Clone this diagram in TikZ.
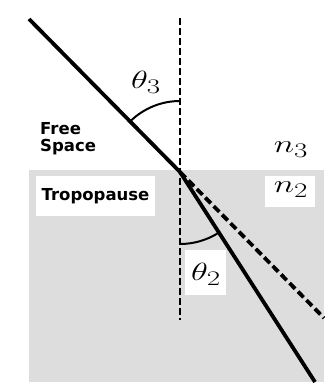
\documentclass[tikz,border=0pt]{standalone}
\usepackage{fontspec}
\usetikzlibrary{calc}
\newfontfamily\labfont{DejaVu Sans}
\tikzset{
  ray/.style={line width=3.8pt},
  normal/.style={line width=2.4pt, dash pattern=on 6.5pt off 3.5pt},
  ghost/.style={line width=3.8pt, dash pattern=on 8pt off 4pt},
  anglearc/.style={line width=2pt},
  txt/.style={font=\labfont\bfseries\fontsize{16.5}{18}\selectfont, inner sep=0pt},
  mathlab/.style={inner sep=0pt, font=\fontsize{28}{32}\selectfont},
  whitebox/.style={fill=white, draw=none},
}
\newcommand{\wide}[1]{\scalebox{1.4}[1]{#1}}
\begin{document}
\begin{tikzpicture}[x=1pt,y=1pt]
\useasboundingbox (0,0) rectangle (324,-388);
\fill[white] (0,0) rectangle (324,-388);
% lower medium
\fill[fill={rgb,255:red,221;green,221;blue,221}] (29,-170) rectangle (324,-382);
% white label boxes
\fill[whitebox] (36,-176) rectangle (155,-216);
\fill[whitebox] (265,-176) rectangle (315,-207);
\fill[whitebox] (185,-250) rectangle (226,-295);
% points
\coordinate (O) at (180,-172);
\coordinate (A) at (29,-19);
\coordinate (B) at (315,-382);
\coordinate (C) at (324,-318);
\coordinate (Ntop) at (180,-18);
\coordinate (Nbot) at (180,-320);
% normal
\draw[normal] (Ntop) -- (Nbot);
% extension of incident ray
\draw[ghost] (O) -- (C);
% rays
\draw[ray] (A) -- (O);
\draw[ray] (O) -- (B);
% angle arcs
\draw[anglearc] ($(O)+(90:71)$) arc[start angle=90, end angle=134.6, radius=71];
\draw[anglearc] ($(O)+(-90:72)$) arc[start angle=-90, end angle=-57.5, radius=72];
% labels
\node[mathlab] (t3) at (146,-82) {\wide{$\theta_3$}};
\node[mathlab] (t2) at (206,-274) {\wide{$\theta_2$}};
\node[mathlab] (n3) at (291,-150) {\wide{$n_3$}};
\node[mathlab] (n2) at (291,-190) {\wide{$n_2$}};
\node[txt, align=left, anchor=north west] (fs) at (40,-122) {Free\\[-1pt]Space};
\node[txt] (tp) at (95.5,-196) {Tropopause};
\end{tikzpicture}
\end{document}
